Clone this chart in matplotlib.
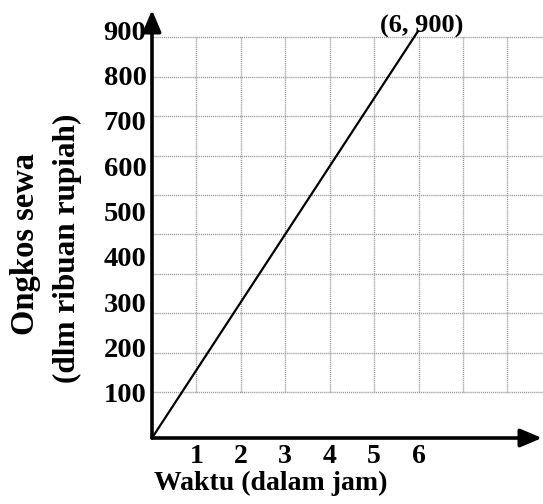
import matplotlib
matplotlib.use("Agg")
import matplotlib.pyplot as plt
import numpy as np

# Data
x_vals = [0, 6]
y_vals = [0, 900]
x_ticks = [1, 2, 3, 4, 5, 6]
y_ticks = [100, 200, 300, 400, 500, 600, 700, 800, 900]
point_label = "(6, 900)"
x_title = "Waktu (dalam jam)"
y_title_1 = "Ongkos sewa"
y_title_2 = "(dlm ribuan rupiah)"

plt.rcParams['font.family'] = ['Liberation Serif', 'DejaVu Serif']
plt.rcParams['font.weight'] = 'bold'

W, H = 543, 504
fig = plt.figure(figsize=(W / 100, H / 100), dpi=100)
ax = fig.add_axes([152 / W, (H - 438) / H, (542 - 152) / W, (438 - 10) / H])
ax.set_xlim(0, 8.78)
ax.set_ylim(0, 945)

for s in ax.spines.values():
    s.set_visible(False)

# background grid (drawn as in the reference: offset from the tick values)
grid_col = '#999999'
grid_ls = (0, (0.8, 0.6))
vx = np.arange(1, 9)
hy = 101.5 + 87 * np.arange(10)
ax.vlines(vx, hy[0], hy[-1], colors=grid_col, linestyles=grid_ls, lw=1.0, zorder=1)
ax.hlines(hy, 0, 8.8, colors=grid_col, linestyles=grid_ls, lw=1.0, zorder=1, clip_on=False)

# axes with arrows
arrow_kw = dict(arrowstyle='-|>,head_length=1.3,head_width=0.55', lw=2.6,
                color='black', shrinkA=0, shrinkB=0)
ax.annotate('', xy=(1, 0), xytext=(0, 0), xycoords='axes fraction',
            textcoords='axes fraction', arrowprops=arrow_kw, annotation_clip=False, zorder=5)
ax.annotate('', xy=(0, 1), xytext=(0, 0), xycoords='axes fraction',
            textcoords='axes fraction', arrowprops=arrow_kw, annotation_clip=False, zorder=5)

# the data line
ax.plot(x_vals, y_vals, color='black', lw=1.6, zorder=4, solid_capstyle='butt')

ax.annotate(point_label, xy=(x_vals[-1], y_vals[-1]), xytext=(2, 3),
            textcoords='offset points', ha='center', va='center',
            fontsize=19, fontweight='bold', zorder=6)

ax.set_xticks(x_ticks)
ax.set_xticklabels([str(t) for t in x_ticks])
ax.set_yticks(y_ticks)
ax.set_yticklabels([str(t) for t in y_ticks])
ax.tick_params(axis='both', length=0)
ax.tick_params(axis='x', pad=4, labelsize=20)
ax.tick_params(axis='y', pad=4, labelsize=20.5)
for lab in ax.get_xticklabels() + ax.get_yticklabels():
    lab.set_fontweight('bold')

fig.text(271 / W, 1 - 483 / H, x_title, ha='center', va='center',
         fontsize=20, fontweight='bold')
fig.text(26 / W, 1 - 244 / H, y_title_1, ha='center', va='center',
         rotation=90, fontsize=23.5, fontweight='bold')
fig.text(67 / W, 1 - 248 / H, y_title_2, ha='center', va='center',
         rotation=90, fontsize=22.5, fontweight='bold')

fig.savefig('out.png', dpi=100)
